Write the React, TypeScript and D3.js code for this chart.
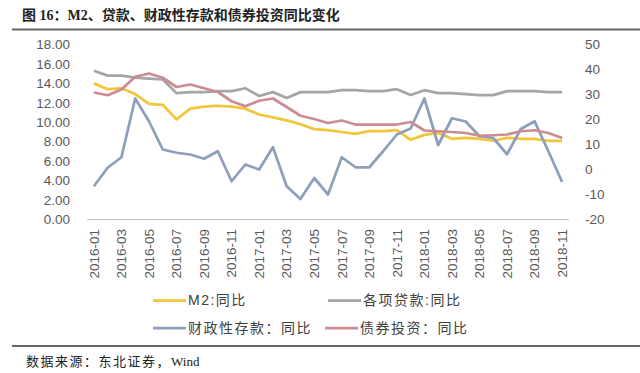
import { useEffect, useRef } from 'react';
import * as d3 from 'd3';

const MONTHS = [
  '2016-01', '2016-02', '2016-03', '2016-04', '2016-05', '2016-06', '2016-07', '2016-08', '2016-09', '2016-10', '2016-11', '2016-12',
  '2017-01', '2017-02', '2017-03', '2017-04', '2017-05', '2017-06', '2017-07', '2017-08', '2017-09', '2017-10', '2017-11', '2017-12',
  '2018-01', '2018-02', '2018-03', '2018-04', '2018-05', '2018-06', '2018-07', '2018-08', '2018-09', '2018-10', '2018-11',
];

// left axis (%)
const M2 = [14.0, 13.4, 13.5, 12.9, 11.9, 11.8, 10.3, 11.4, 11.6, 11.7, 11.6, 11.4, 10.8, 10.5, 10.2, 9.8, 9.3, 9.2, 9.0, 8.8, 9.1, 9.1, 9.2, 8.2, 8.7, 8.9, 8.3, 8.4, 8.3, 8.1, 8.4, 8.3, 8.3, 8.1, 8.1];
const LOANS = [15.3, 14.8, 14.8, 14.6, 14.5, 14.4, 13.0, 13.1, 13.1, 13.2, 13.2, 13.5, 12.7, 13.1, 12.5, 13.1, 13.1, 13.1, 13.3, 13.3, 13.2, 13.2, 13.4, 12.8, 13.3, 13.0, 13.0, 12.9, 12.8, 12.8, 13.2, 13.2, 13.2, 13.1, 13.1];
// right axis (%)
const FISCAL = [-6.7, 0.7, 4.9, 28.4, 19.3, 8.0, 6.7, 6.0, 4.3, 7.3, -4.7, 2.0, 0.0, 8.9, -6.7, -11.8, -3.4, -10.0, 4.9, 0.9, 0.9, 7.3, 14.0, 16.4, 28.4, 9.8, 20.5, 19.2, 13.3, 12.6, 6.1, 16.2, 19.3, 7.3, -5.0];
const BONDS = [30.8, 29.7, 32.0, 37.1, 38.4, 36.7, 33.0, 34.0, 32.5, 31.0, 27.3, 25.3, 27.5, 28.4, 25.0, 21.5, 20.2, 18.6, 19.6, 18.0, 18.0, 18.0, 18.0, 19.0, 15.6, 15.3, 15.0, 14.6, 13.5, 13.7, 14.0, 15.3, 15.7, 14.6, 12.6];

const LEFT_TICKS = [0, 2, 4, 6, 8, 10, 12, 14, 16, 18];
const RIGHT_TICKS = [-20, -10, 0, 10, 20, 30, 40, 50];

const SERIES = [
  { name: 'M2:同比', values: M2, color: '#F2C53A', axis: 'left' },
  { name: '各项贷款:同比', values: LOANS, color: '#A6A6A6', axis: 'left' },
  { name: '财政性存款：同比', values: FISCAL, color: '#8E9FBC', axis: 'right' },
  { name: '债券投资：同比', values: BONDS, color: '#CC8C93', axis: 'right' },
];

const TICK_FONT = "'Liberation Sans', Arial, sans-serif";
const CJK_SANS = "'Liberation Sans', 'Noto Sans CJK SC', sans-serif";
const CJK_SERIF = "'Liberation Serif', 'Noto Sans CJK SC', serif";

export default function App() {
  const svgRef = useRef<SVGSVGElement>(null);

  useEffect(() => {
    if (!svgRef.current) return;
    const svg = d3.select(svgRef.current);
    svg.selectAll('*').remove();

    const x = d3.scaleBand().domain(MONTHS).range([87, 569]).padding(0);
    const cx = (m: string) => (x(m) ?? 0) + x.bandwidth() / 2;
    const yL = d3.scaleLinear().domain([0, 18]).range([219.5, 44.5]);
    const yR = d3.scaleLinear().domain([-20, 50]).range([219.5, 44.5]);

    // title
    svg.append('text')
      .attr('x', 22).attr('y', 20)
      .attr('font-family', CJK_SERIF).attr('font-size', 14).attr('font-weight', 700)
      .attr('fill', '#222')
      .text('图 16：M2、贷款、财政性存款和债券投资同比变化');
    svg.append('line')
      .attr('x1', 12).attr('x2', 640).attr('y1', 29.5).attr('y2', 29.5)
      .attr('stroke', '#666').attr('stroke-width', 2);

    // left ticks
    svg.append('g').selectAll('text').data(LEFT_TICKS).join('text')
      .attr('x', 70).attr('y', d => yL(d)).attr('dy', '0.35em')
      .attr('text-anchor', 'end')
      .attr('font-family', TICK_FONT).attr('font-size', 13.5).attr('fill', '#595959')
      .text(d => d.toFixed(2));

    // right ticks
    svg.append('g').selectAll('text').data(RIGHT_TICKS).join('text')
      .attr('x', 585).attr('y', d => yR(d)).attr('dy', '0.35em')
      .attr('text-anchor', 'start')
      .attr('font-family', TICK_FONT).attr('font-size', 13.5).attr('fill', '#595959')
      .text(d => d);

    // x axis
    svg.append('line')
      .attr('x1', 87).attr('x2', 569).attr('y1', 219.5).attr('y2', 219.5)
      .attr('stroke', '#BFBFBF').attr('stroke-width', 1);

    svg.append('g').selectAll('text').data(MONTHS.filter((_, i) => i % 2 === 0)).join('text')
      .attr('transform', d => `translate(${cx(d)},229) rotate(-90)`)
      .attr('dy', '0.35em')
      .attr('text-anchor', 'end')
      .attr('font-family', TICK_FONT).attr('font-size', 13.5).attr('fill', '#595959')
      .text(d => d);

    // lines
    SERIES.forEach(s => {
      const y = s.axis === 'left' ? yL : yR;
      const line = d3.line<number>()
        .x((_, i) => cx(MONTHS[i]))
        .y(d => y(d));
      svg.append('path')
        .datum(s.values)
        .attr('d', line)
        .attr('fill', 'none')
        .attr('stroke', s.color)
        .attr('stroke-width', 2.75)
        .attr('stroke-linejoin', 'round');
    });

    // legend
    const legendPos = [
      [153, 300.5], [328, 300.5], [153, 328], [325, 328],
    ];
    SERIES.forEach((s, i) => {
      const [lx, ly] = legendPos[i];
      const g = svg.append('g').attr('transform', `translate(${lx},${ly})`);
      g.append('line')
        .attr('x1', 0).attr('x2', 33).attr('y1', 0).attr('y2', 0)
        .attr('stroke', s.color).attr('stroke-width', 2.75);
      g.append('text')
        .attr('x', 35).attr('y', 0).attr('dy', '0.35em')
        .attr('font-family', CJK_SANS).attr('font-size', 14).attr('letter-spacing', 1.5)
        .attr('fill', '#404040')
        .text(s.name);
    });

    // source
    svg.append('line')
      .attr('x1', 12).attr('x2', 640).attr('y1', 346).attr('y2', 346)
      .attr('stroke', '#333').attr('stroke-width', 1.5);
    const src = svg.append('text')
      .attr('x', 26).attr('y', 366)
      .attr('font-family', CJK_SERIF).attr('font-size', 13)
      .attr('fill', '#222');
    src.append('tspan').attr('letter-spacing', 1.5).text('数据来源：东北证券，');
    src.append('tspan').text('Wind');
  }, []);

  return (
    <svg
      ref={svgRef}
      width={640}
      height={373}
      style={{ position: 'absolute', left: 0, top: 0, background: '#fff' }}
    />
  );
}
